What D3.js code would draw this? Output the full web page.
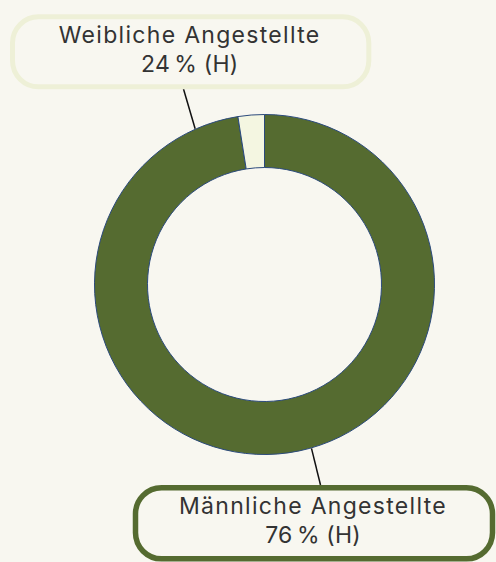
<!DOCTYPE html>
<html>
<head>
<meta charset="utf-8">
<script src="https://cdn.jsdelivr.net/npm/d3@7"></script>
<style>
    body { margin: 0; background: #f8f7f0; }
    svg { display: block; }
    .label-text { font-family: Inter, "Open Sans", sans-serif; fill: #333333; letter-spacing: 1.3px; }
    .label-text.pct { letter-spacing: 0.2px; }
</style>
</head>
<body>
<div id="chart"></div>
<script>

// data
let categories = ["Männliche Angestellte", "Weibliche Angestellte"];
let shares = [97.5, 2.5];               // drawn arc sizes (as in the picture)
let shareLabels = ["76\u202F% (H)", "24\u202F% (H)"];
let colors = ["#556b30", "#f4f6e1"];
let boxColors = ["#556b30", "#eef0d7"];

let width = 496, height = 562;
let cx = 264.5, cy = 284.5;
let outerR = 170, innerR = 117;

let svg = d3.select("#chart").append("svg")
    .attr("width", width)
    .attr("height", height);

svg.append("rect")
    .attr("width", width)
    .attr("height", height)
    .attr("fill", "#f8f7f0");

let pie = d3.pie().sort(null).value(d => d);
let arc = d3.arc().innerRadius(innerR).outerRadius(outerR);

let g = svg.append("g")
    .attr("transform", `translate(${cx},${cy})`);

g.selectAll("path.slice")
    .data(pie(shares))
    .enter()
    .append("path")
    .attr("class", "slice")
    .attr("d", arc)
    .attr("fill", (d, i) => colors[i])
    .attr("stroke", "#2b4a7c")
    .attr("stroke-width", 1);

// callouts: leader line anchor angle on the ring, line end, box
let callouts = [
    {i: 0, angle: 164, lineEnd: [320.5, 485], box: {x: 135.5, y: 487.8, w: 357, h: 71}},
    {i: 1, angle: -24, lineEnd: [183.5, 89], box: {x: 12.5, y: 16.8, w: 356.3, h: 70}}
];

callouts.forEach(c => {
    let a = c.angle * Math.PI / 180;
    let x0 = cx + Math.sin(a) * (outerR + 0.5);
    let y0 = cy - Math.cos(a) * (outerR + 0.5);

    svg.append("line")
        .attr("x1", x0).attr("y1", y0)
        .attr("x2", c.lineEnd[0]).attr("y2", c.lineEnd[1])
        .attr("stroke", "#111")
        .attr("stroke-width", 1.5);

    svg.append("rect")
        .attr("x", c.box.x).attr("y", c.box.y)
        .attr("width", c.box.w).attr("height", c.box.h)
        .attr("rx", 26).attr("ry", 26)
        .attr("fill", "#f8f7f0")
        .attr("stroke", boxColors[c.i])
        .attr("stroke-width", c.i === 0 ? 5.5 : 5);

    let tx = c.box.x + c.box.w / 2 - 1;
    svg.append("text")
        .attr("class", "label-text")
        .attr("text-anchor", "middle")
        .attr("font-size", "23px")
        .attr("x", tx)
        .attr("y", c.box.y + 26.5)
        .text(categories[c.i]);
    svg.append("text")
        .attr("class", "label-text pct")
        .attr("text-anchor", "middle")
        .attr("font-size", "23px")
        .attr("x", tx)
        .attr("y", c.box.y + 55)
        .text(shareLabels[c.i]);
});

</script>
</body>
</html>
